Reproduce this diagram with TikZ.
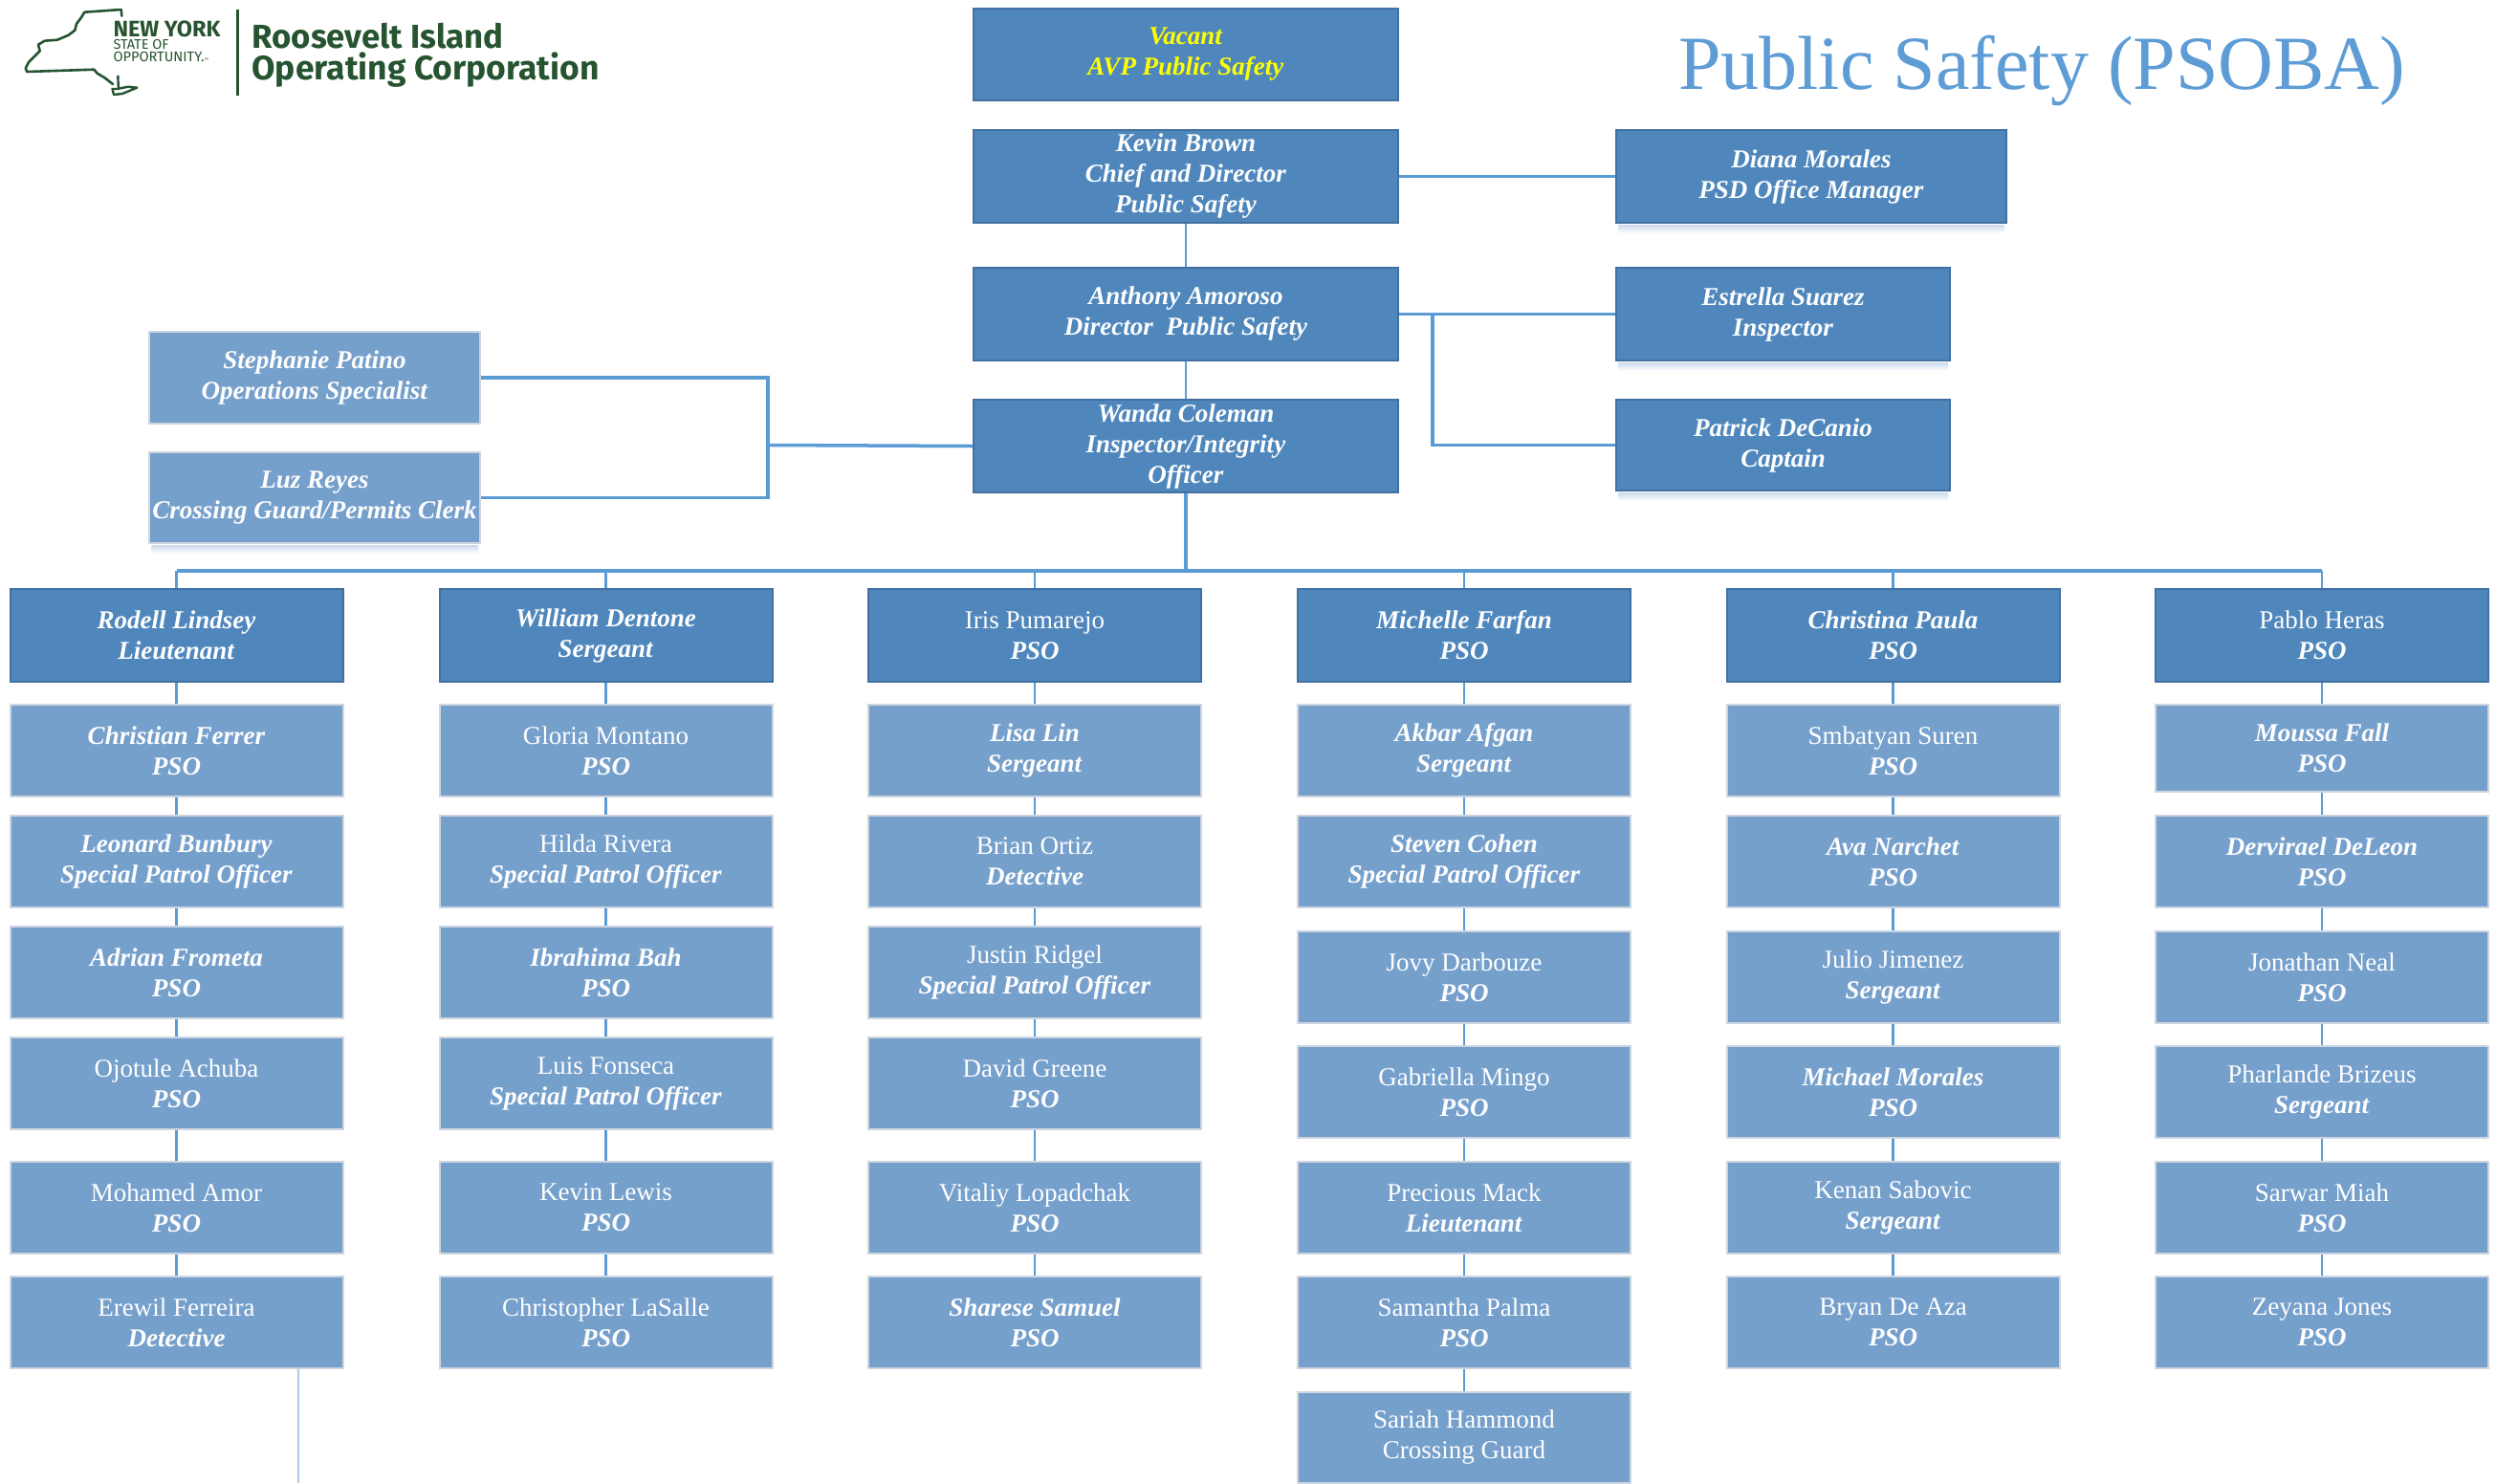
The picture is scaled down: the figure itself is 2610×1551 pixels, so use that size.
\documentclass[tikz,border=0pt]{standalone}
\usepackage{fontspec}
\usepackage{graphicx}
\setmainfont{Liberation Serif}
\newfontfamily\logofont{Fira Sans}
\definecolor{dkblue}{RGB}{79,135,188}
\definecolor{dkedge}{RGB}{66,112,160}
\definecolor{ltblue}{RGB}{118,160,204}
\definecolor{ltedge}{RGB}{205,213,224}
\definecolor{conncol}{RGB}{91,155,213}
\definecolor{titleblue}{RGB}{94,156,214}
\definecolor{logogreen}{RGB}{38,84,48}
\definecolor{shadowc}{RGB}{204,218,236}
\definecolor{straycol}{RGB}{170,200,232}
\definecolor{vacyellow}{RGB}{255,255,0}
\newcommand\bfi[1]{\textbf{\textit{#1}}}
\tikzset{
  boxbase/.style={rectangle, inner sep=0pt, align=center, text=white, line width=2pt,
    font=\fontsize{27}{32}\selectfont, anchor=north},
  dk/.style={boxbase, fill=dkblue, draw=dkedge},
  lt/.style={boxbase, fill=ltblue, draw=ltedge},
  colbox/.style={minimum width=348pt, minimum height=96pt},
  colhead/.style={minimum width=348pt, minimum height=97pt},
  topbox/.style={minimum width=444pt, minimum height=97pt},
  conn/.style={draw=conncol, line width=2.5pt},
  busline/.style={draw=conncol, line width=3.5pt},
  stray/.style={draw=straycol, line width=1.5pt},
  logotext/.style={anchor=base west, inner sep=0pt, text=logogreen},
}
\begin{document}
\begin{tikzpicture}[x=1pt,y=-1pt]
\fill[white] (0,0) rectangle (2610,1551);
\useasboundingbox (0,0) rectangle (2610,1551);

% ---------- logo ----------
\draw[logogreen, line width=2.6pt, line join=round, line cap=round]
  (127.3,16.7) -- (126.7,10) -- (88.3,12.7) -- (85,18.3) -- (80,25) -- (78.3,31.7)
  -- (71.7,36.7) -- (60,41.7) -- (46.7,42.7) -- (40,46.7) -- (41.7,53.3) -- (36.7,58.3)
  -- (30,65) -- (26.7,71.7) -- (28.3,75) -- (98.3,72.7) -- (101.7,76.7) -- (110,81.7)
  -- (118,88);
\draw[logogreen, line width=2.4pt, line join=round]
  (117.5,93) -- (119,99) -- (128,98) -- (143.3,91.7) -- (134,90.7) -- (122.5,93) -- cycle;
\draw[logogreen, line width=2.4pt] (123.3,79) -- (123.8,92);
\node[logotext, font=\logofont\bfseries] (nyA) at (118.3,38) {\resizebox{112pt}{!}{NEW YORK}};
\node[logotext, font=\logofont] (nyB) at (118.3,51.5) {\resizebox{58pt}{!}{STATE OF}};
\node[logotext, font=\logofont] (nyC) at (118.3,64) {\resizebox{95pt}{!}{OPPORTUNITY.}{\fontsize{5}{5}\selectfont ™}};
\draw[logogreen, line width=2.5pt] (248.3,9.5) -- (248.3,100);
\node[logotext, font=\logofont\bfseries] (rioA) at (263.3,50) {\resizebox{263pt}{!}{Roosevelt Island}};
\node[logotext, font=\logofont\bfseries] (rioB) at (263.3,83.3) {\resizebox{363pt}{!}{Operating Corporation}};

% ---------- title ----------
\node[anchor=base west, inner sep=0pt, text=titleblue, font=\fontsize{80}{96}\selectfont] (title)
  at (1755,93) {Public Safety (PSOBA)};

% ---------- top boxes ----------
\node[dk, minimum width=444pt, minimum height=96pt] (vacant) at (1240,8)
  {\textcolor{vacyellow}{\bfi{Vacant}}\\\textcolor{vacyellow}{\bfi{AVP Public Safety}}};
\node[dk, topbox] (kevin) at (1240,135) {\bfi{Kevin Brown}\\\bfi{Chief and Director}\\\bfi{Public Safety}};
\node[dk, topbox] (anthony) at (1240,279) {\bfi{Anthony Amoroso}\\\bfi{Director~ Public Safety}};
\node[dk, topbox] (wanda) at (1240,417) {\bfi{Wanda Coleman}\\\bfi{Inspector/Integrity}\\\bfi{Officer}};
\node[dk, minimum width=408pt, minimum height=97pt] (diana) at (1894,135) {\bfi{Diana Morales}\\\bfi{PSD Office Manager}};
\node[dk, minimum width=349pt, minimum height=97pt] (estrella) at (1864.5,279) {\bfi{Estrella Suarez}\\\bfi{Inspector}};
\node[dk, minimum width=349pt, minimum height=95pt] (patrick) at (1864.5,417) {\bfi{Patrick DeCanio}\\\bfi{Captain}};
\node[lt, minimum width=346pt, minimum height=96pt] (stephanie) at (329,346) {\bfi{Stephanie Patino}\\\bfi{Operations Specialist}};
\node[lt, minimum width=346pt, minimum height=95pt] (luz) at (329,472) {\bfi{Luz Reyes}\\\bfi{Crossing Guard/Permits Clerk}};

\foreach \nm in {diana,estrella,patrick,luz}{
  \shade[top color=shadowc, bottom color=white]
    ([xshift=3pt,yshift=-1pt]\nm.south west) rectangle ([xshift=-3pt,yshift=-10pt]\nm.south east);
}

% ---------- column 1 ----------
\node[dk, colhead] (c1h) at (184.5,615) {\bfi{Rodell Lindsey}\\\bfi{Lieutenant}};
\node[lt, colbox] (c1r1) at (184.5,736) {\bfi{Christian Ferrer}\\\bfi{PSO}};
\node[lt, colbox] (c1r2) at (184.5,852) {\bfi{Leonard Bunbury}\\\bfi{Special Patrol Officer}};
\node[lt, colbox] (c1r3) at (184.5,968) {\bfi{Adrian Frometa}\\\bfi{PSO}};
\node[lt, colbox] (c1r4) at (184.5,1084) {Ojotule Achuba\\\bfi{PSO}};
\node[lt, colbox] (c1r5) at (184.5,1214) {Mohamed Amor\\\bfi{PSO}};
\node[lt, colbox] (c1r6) at (184.5,1334) {Erewil Ferreira\\\bfi{Detective}};

% ---------- column 2 ----------
\node[dk, colhead] (c2h) at (633.5,615) {\bfi{William Dentone}\\\bfi{Sergeant}};
\node[lt, colbox] (c2r1) at (633.5,736) {Gloria Montano\\\bfi{PSO}};
\node[lt, colbox] (c2r2) at (633.5,852) {Hilda Rivera\\\bfi{Special Patrol Officer}};
\node[lt, colbox] (c2r3) at (633.5,968) {\bfi{Ibrahima Bah}\\\bfi{PSO}};
\node[lt, colbox] (c2r4) at (633.5,1084) {Luis Fonseca\\\bfi{Special Patrol Officer}};
\node[lt, colbox] (c2r5) at (633.5,1214) {Kevin Lewis\\\bfi{PSO}};
\node[lt, colbox] (c2r6) at (633.5,1334) {Christopher LaSalle\\\bfi{PSO}};

% ---------- column 3 ----------
\node[dk, colhead] (c3h) at (1082,615) {Iris Pumarejo\\\bfi{PSO}};
\node[lt, colbox] (c3r1) at (1082,736) {\bfi{Lisa Lin}\\\bfi{Sergeant}};
\node[lt, colbox] (c3r2) at (1082,852) {Brian Ortiz\\\bfi{Detective}};
\node[lt, colbox] (c3r3) at (1082,968) {Justin Ridgel\\\bfi{Special Patrol Officer}};
\node[lt, colbox] (c3r4) at (1082,1084) {David Greene\\\bfi{PSO}};
\node[lt, colbox] (c3r5) at (1082,1214) {Vitaliy Lopadchak\\\bfi{PSO}};
\node[lt, colbox] (c3r6) at (1082,1334) {\bfi{Sharese Samuel}\\\bfi{PSO}};

% ---------- column 4 ----------
\node[dk, colhead] (c4h) at (1531,615) {\bfi{Michelle Farfan}\\\bfi{PSO}};
\node[lt, colbox] (c4r1) at (1531,736) {\bfi{Akbar Afgan}\\\bfi{Sergeant}};
\node[lt, colbox] (c4r2) at (1531,852) {\bfi{Steven Cohen}\\\bfi{Special Patrol Officer}};
\node[lt, colbox] (c4r3) at (1531,973) {Jovy Darbouze\\\bfi{PSO}};
\node[lt, colbox] (c4r4) at (1531,1093) {Gabriella Mingo\\\bfi{PSO}};
\node[lt, colbox] (c4r5) at (1531,1214) {Precious Mack\\\bfi{Lieutenant}};
\node[lt, colbox] (c4r6) at (1531,1334) {Samantha Palma\\\bfi{PSO}};
\node[lt, colbox, minimum height=95pt] (c4r7) at (1531,1455) {Sariah Hammond\\Crossing Guard};

% ---------- column 5 ----------
\node[dk, colhead] (c5h) at (1979.5,615) {\bfi{Christina Paula}\\\bfi{PSO}};
\node[lt, colbox] (c5r1) at (1979.5,736) {Smbatyan Suren\\\bfi{PSO}};
\node[lt, colbox] (c5r2) at (1979.5,852) {\bfi{Ava Narchet}\\\bfi{PSO}};
\node[lt, colbox] (c5r3) at (1979.5,973) {Julio Jimenez\\\bfi{Sergeant}};
\node[lt, colbox] (c5r4) at (1979.5,1093) {\bfi{Michael Morales}\\\bfi{PSO}};
\node[lt, colbox] (c5r5) at (1979.5,1214) {Kenan Sabovic\\\bfi{Sergeant}};
\node[lt, colbox] (c5r6) at (1979.5,1334) {Bryan De Aza\\\bfi{PSO}};

% ---------- column 6 ----------
\node[dk, colhead] (c6h) at (2428,615) {Pablo Heras\\\bfi{PSO}};
\node[lt, colbox, minimum height=91pt] (c6r1) at (2428,736) {\bfi{Moussa Fall}\\\bfi{PSO}};
\node[lt, colbox] (c6r2) at (2428,852) {\bfi{Dervirael DeLeon}\\\bfi{PSO}};
\node[lt, colbox] (c6r3) at (2428,973) {Jonathan Neal\\\bfi{PSO}};
\node[lt, colbox] (c6r4) at (2428,1093) {Pharlande Brizeus\\\bfi{Sergeant}};
\node[lt, colbox] (c6r5) at (2428,1214) {Sarwar Miah\\\bfi{PSO}};
\node[lt, colbox] (c6r6) at (2428,1334) {Zeyana Jones\\\bfi{PSO}};

% ---------- connectors ----------
\coordinate (bus) at (1240,597);
\coordinate (aj) at (1498,327.5);
\coordinate (bj) at (803,465.5);
\coordinate (strayA) at (312,1432);
\coordinate (strayB) at (312,1551);

\draw[conn] (kevin.south) -- (anthony.north);
\draw[conn] (anthony.south) -- (wanda.north);
\draw[busline] (kevin.east) -- (diana.west);
\draw[busline] (anthony.east) -- (estrella.west);
\draw[busline] (aj) |- (patrick.west);
\draw[busline] (stephanie.east) -| (bj) |- (luz.east);
\draw[busline] (bj) -- (wanda.west);
\draw[busline] (wanda.south) -- (bus);
\draw[busline] (c1h.north |- bus) -- (c6h.north |- bus);

\foreach \col/\num in {1/6,2/6,3/6,4/7,5/6,6/6}{
  \draw[conn] (c\col h.north |- bus) -- (c\col h.north);
  \draw[conn] (c\col h.south) -- (c\col r1.north);
  \foreach \rw in {2,...,\num}{
    \pgfmathtruncatemacro\prv{\rw-1}
    \draw[conn] (c\col r\prv.south) -- (c\col r\rw.north);
  }
}
\draw[stray] (strayA) -- (strayB);
\end{tikzpicture}
\end{document}
